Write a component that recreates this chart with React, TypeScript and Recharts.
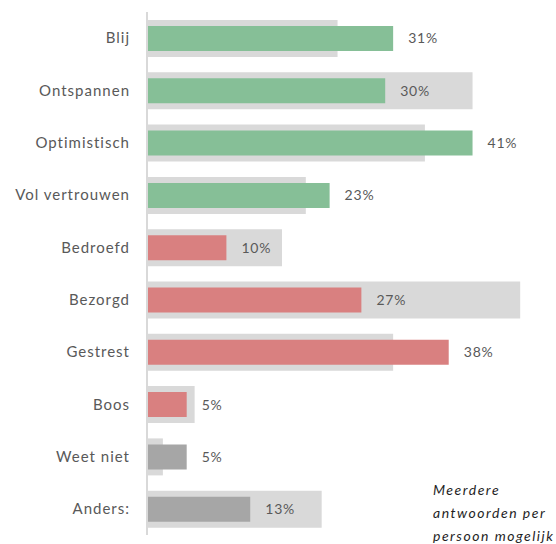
import { Bar, BarChart, Cell, LabelList, XAxis, YAxis } from "recharts";

const categories = [
  "Blij",
  "Ontspannen",
  "Optimistisch",
  "Vol vertrouwen",
  "Bedroefd",
  "Bezorgd",
  "Gestrest",
  "Boos",
  "Weet niet",
  "Anders:",
];
const current = [31, 30, 41, 23, 10, 27, 38, 5, 5, 13];
const previous = [24, 41, 35, 20, 17, 47, 31, 6, 2, 22];
const groups = ["pos", "pos", "pos", "pos", "neg", "neg", "neg", "neg", "other", "other"];

const groupColors: Record<string, string> = {
  pos: "#86bf97",
  neg: "#d98080",
  other: "#a6a6a6",
};

const data = categories.map((name, i) => ({
  name,
  now: current[i],
  before: previous[i],
  group: groups[i],
}));

const font = "Lato, 'Open Sans', sans-serif";

export default function App() {
  return (
    <div style={{ position: "absolute", left: 0, top: 0, width: 556, height: 544, background: "#fff", overflow: "hidden" }}>
      <BarChart
        width={556}
        height={544}
        data={data}
        layout="vertical"
        margin={{ top: 12, right: 12, bottom: 9, left: 0 }}
      >
        <XAxis type="number" domain={[0, 50]} hide />
        <YAxis
          yAxisId="bg"
          type="category"
          dataKey="name"
          width={147}
          axisLine={{ stroke: "#d9d9d9", strokeWidth: 2 }}
          tickLine={false}
          tickSize={0}
          tickMargin={17}
          tick={{ fill: "#595959", fontSize: 15, fontFamily: font, letterSpacing: 1 }}
        />
        <YAxis yAxisId="fg" type="category" dataKey="name" hide />
        <Bar yAxisId="bg" dataKey="before" barSize={37} fill="#d9d9d9" isAnimationActive={false} />
        <Bar yAxisId="fg" dataKey="now" barSize={25} isAnimationActive={false}>
          {data.map((d) => (
            <Cell key={d.name} fill={groupColors[d.group]} />
          ))}
          <LabelList
            dataKey="now"
            position="right"
            offset={15}
            formatter={(v: number) => `${v}%`}
            style={{ fill: "#595959", fontSize: 14, fontFamily: font, letterSpacing: 0.8 }}
          />
        </Bar>
      </BarChart>
      <div
        style={{
          position: "absolute",
          left: 433,
          top: 478,
          fontFamily: font,
          fontStyle: "italic",
          fontSize: 14,
          lineHeight: "23px",
          letterSpacing: 1.5,
          color: "#1f1f1f",
          whiteSpace: "nowrap",
        }}
      >
        Meerdere
        <br />
        antwoorden per
        <br />
        persoon mogelijk
      </div>
    </div>
  );
}
